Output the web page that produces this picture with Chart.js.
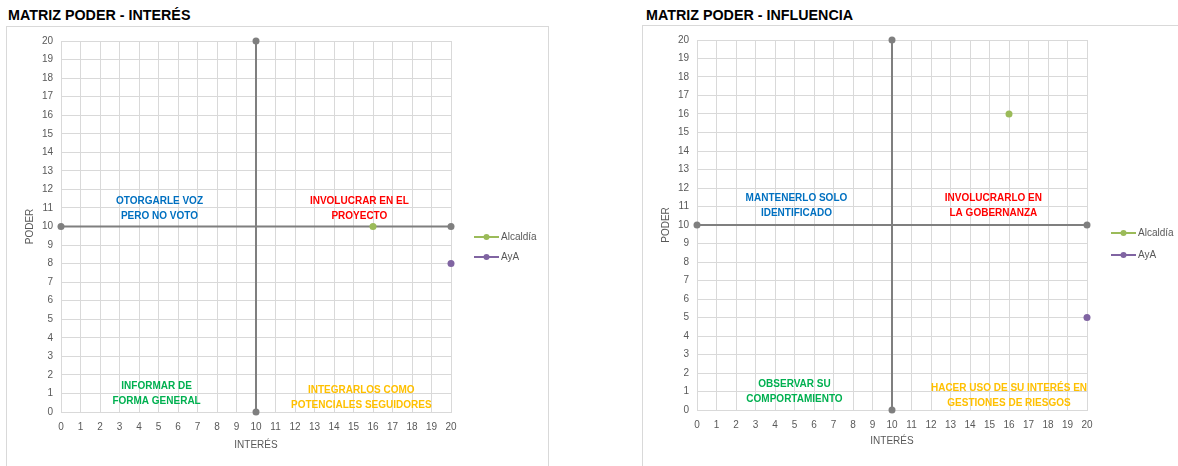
<!DOCTYPE html>
<html>
<head>
<meta charset="utf-8">
<script src="https://cdn.jsdelivr.net/npm/chart.js@4.4.0/dist/chart.umd.min.js"></script>
<style>
  body { margin: 0; background: #fff; width: 1178px; height: 466px; position: relative; overflow: hidden;
         font-family: "Liberation Sans", Arial, sans-serif; }
  .title { position: absolute; font-weight: bold; font-size: 14.3px; line-height: 16px; color: #000; }
  .box { position: absolute; border: 1px solid #d9d9d9; box-sizing: border-box; }
  .box canvas { position: absolute; left: 0; top: 0; }
</style>
</head>
<body>
<div class="title" style="left:8px;top:7px">MATRIZ PODER - INTERÉS</div>
<div class="box" style="left:6px;top:26px;width:543px;height:442px"><canvas id="chartInteres"></canvas></div>
<div class="title" style="left:646px;top:7px">MATRIZ PODER - INFLUENCIA</div>
<div class="box" style="left:642px;top:25px;width:540px;height:442px"><canvas id="chartInfluencia"></canvas></div>

<script>
// series
const seriesNames = ["Alcaldía", "AyA"];
const interesX = [16, 20];
const interesPoder = [10, 8];
const influenciaX = [16, 20];
const influenciaPoder = [16, 5];

// axes
const axisRange = [0, 20];
const axisCenter = 10;
const xTitle = "INTERÉS";
const yTitle = "PODER";

// quadrant texts: top-left, top-right, bottom-left, bottom-right
const quadrantInteres = [
  ["OTORGARLE VOZ", "PERO NO VOTO"],
  ["INVOLUCRAR EN EL", "PROYECTO"],
  ["INFORMAR DE", "FORMA GENERAL"],
  ["INTEGRARLOS COMO", "POTENCIALES SEGUIDORES"],
];
const quadrantInfluencia = [
  ["MANTENERLO SOLO", "IDENTIFICADO"],
  ["INVOLUCRARLO EN", "LA GOBERNANZA"],
  ["OBSERVAR SU", "COMPORTAMIENTO"],
  ["HACER USO DE SU INTERÉS EN", "GESTIONES DE RIESGOS"],
];

const seriesColors = ["#9BBB59", "#8064A2"];
const quadrantColors = ["#0070C0", "#FF0000", "#00B050", "#FFC000"];
const FONT = "'Liberation Sans', Arial, sans-serif";
const TEXT_GRAY = "#595959";

const quadrantPlugin = {
  id: "quadrants",
  afterDatasetsDraw(chart, args, opts) {
    const { ctx, scales } = chart;
    ctx.save();
    ctx.font = "bold 10px " + FONT;
    ctx.textAlign = "center";
    ctx.textBaseline = "middle";
    opts.labels.forEach((lines, i) => {
      const spot = opts.spots[i];
      const px = scales.x.getPixelForValue(spot[0]);
      const py = scales.y.getPixelForValue(spot[1]);
      ctx.fillStyle = quadrantColors[i];
      lines.forEach((t, j) => ctx.fillText(t, px, py + j * 15));
    });
    ctx.restore();
  },
};

const sideLegendPlugin = {
  id: "sideLegend",
  afterDraw(chart, args, opts) {
    const ctx = chart.ctx;
    ctx.save();
    ctx.font = "10px " + FONT;
    ctx.textBaseline = "middle";
    seriesNames.forEach((name, i) => {
      const yy = opts.top + i * opts.gap;
      ctx.strokeStyle = seriesColors[i];
      ctx.lineWidth = 2;
      ctx.beginPath();
      ctx.moveTo(opts.left, yy);
      ctx.lineTo(opts.left + 25, yy);
      ctx.stroke();
      ctx.fillStyle = seriesColors[i];
      ctx.beginPath();
      ctx.arc(opts.left + 12.5, yy, 3, 0, Math.PI * 2);
      ctx.fill();
      ctx.fillStyle = TEXT_GRAY;
      ctx.fillText(name, opts.left + 27, yy);
    });
    ctx.restore();
  },
};

function buildDatasets(xs, ys) {
  const axisStyle = {
    showLine: true, borderColor: "#7f7f7f", backgroundColor: "#7f7f7f",
    borderWidth: 2, pointRadius: 3.5, pointBorderWidth: 0, clip: false,
  };
  const series = seriesNames.map((name, i) => ({
    label: name,
    data: [{ x: xs[i], y: ys[i] }],
    backgroundColor: seriesColors[i],
    borderColor: seriesColors[i],
    pointRadius: 3.5,
    pointBorderWidth: 0,
    clip: false,
  }));
  return series.concat([
    { ...axisStyle, label: "h", data: [{ x: axisRange[0], y: axisCenter }, { x: axisRange[1], y: axisCenter }] },
    { ...axisStyle, label: "v", data: [{ x: axisCenter, y: axisRange[0] }, { x: axisCenter, y: axisRange[1] }] },
  ]);
}

function makeChart(id, size, xs, ys, labels, layout) {
  const canvas = document.getElementById(id);
  canvas.width = size[0];
  canvas.height = size[1];
  canvas.style.width = size[0] + "px";
  canvas.style.height = size[1] + "px";
  const tickFont = { family: FONT, size: 10 };
  return new Chart(canvas, {
    type: "scatter",
    data: { datasets: buildDatasets(xs, ys) },
    options: {
      responsive: false,
      animation: false,
      events: [],
      layout: { padding: { left: 0, top: layout.top, right: layout.right, bottom: 0 } },
      scales: {
        x: {
          type: "linear", min: axisRange[0], max: axisRange[1],
          ticks: { stepSize: 1, color: TEXT_GRAY, font: tickFont, padding: 9, maxRotation: 0, autoSkip: false },
          grid: { color: "#d9d9d9", drawTicks: false },
          border: { color: "#d9d9d9" },
          title: { display: true, text: xTitle, color: TEXT_GRAY, font: tickFont, padding: { top: 0, bottom: layout.xTitlePad } },
          afterFit(s) { s.height = layout.xHeight; },
        },
        y: {
          type: "linear", min: axisRange[0], max: axisRange[1],
          ticks: { stepSize: 1, color: TEXT_GRAY, font: tickFont, padding: 8, autoSkip: false },
          grid: { color: "#d9d9d9", drawTicks: false },
          border: { color: "#d9d9d9" },
          title: { display: true, text: yTitle, color: TEXT_GRAY, font: tickFont, padding: { top: 17, bottom: 0 } },
          afterFit(s) { s.width = 54; },
        },
      },
      plugins: {
        legend: { display: false },
        tooltip: { enabled: false },
        quadrants: { labels: labels, spots: layout.spots },
        sideLegend: layout.legend,
      },
    },
    plugins: [quadrantPlugin, sideLegendPlugin],
  });
}

makeChart("chartInteres", [540, 438], interesX, interesPoder, quadrantInteres, {
  top: 12, right: 96, xHeight: 53, xTitlePad: 14,
  spots: [[5.05, 11.37], [15.3, 11.37], [4.9, 1.39], [15.4, 1.18]],
  legend: { left: 467, top: 210, gap: 20 },
});

makeChart("chartInfluencia", [535, 438], influenciaX, influenciaPoder, quadrantInfluencia, {
  top: 11, right: 91, xHeight: 54, xTitlePad: 17,
  spots: [[5.1, 11.42], [15.2, 11.42], [5.0, 1.39], [16.0, 1.18]],
  legend: { left: 468, top: 207, gap: 22 },
});
</script>
</body>
</html>
